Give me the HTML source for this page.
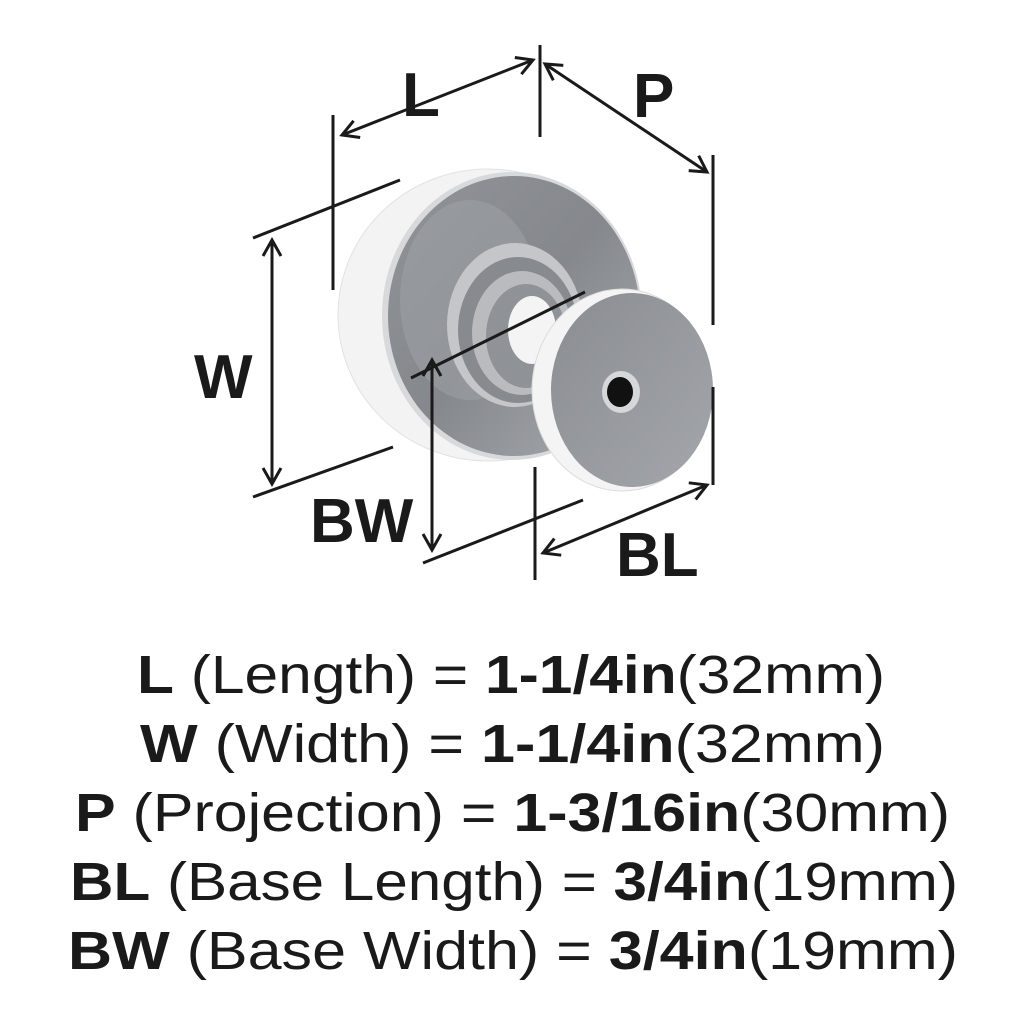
<!DOCTYPE html>
<html><head><meta charset="utf-8"><style>
html,body{margin:0;padding:0;background:#fff;width:1024px;height:1024px;overflow:hidden}
svg{display:block}
text{font-family:"Liberation Sans",sans-serif;fill:#1a1a1a}
</style></head><body>
<svg width="1024" height="1024" viewBox="0 0 1024 1024" xmlns="http://www.w3.org/2000/svg">
<defs>
<linearGradient id="g1" x1="0" y1="0" x2="1" y2="1">
<stop offset="0" stop-color="#909398"/><stop offset="0.5" stop-color="#85888d"/><stop offset="1" stop-color="#a8abaf"/>
</linearGradient>
<linearGradient id="g2" x1="0" y1="0" x2="1" y2="1">
<stop offset="0" stop-color="#8a8d92"/><stop offset="1" stop-color="#a3a6aa"/>
</linearGradient>
<marker id="a" viewBox="0 0 24 24" refX="21" refY="12" markerWidth="24" markerHeight="24" markerUnits="userSpaceOnUse" orient="auto-start-reverse">
<path d="M5,3 L21,12 L5,21" fill="none" stroke="#1a1a1a" stroke-width="3"/>
</marker>
</defs>
<!-- base -->
<ellipse cx="488" cy="315" rx="150" ry="146" fill="#f3f3f3" stroke="#e2e2e2"/>
<ellipse cx="512" cy="316" rx="130" ry="144" fill="#d8d9db"/>
<ellipse cx="514" cy="316" rx="126" ry="140" fill="url(#g1)"/>
<ellipse cx="470" cy="300" rx="70" ry="100" fill="#a0a3a7" opacity="0.5"/>
<!-- neck -->
<ellipse cx="515" cy="325" rx="68" ry="82" fill="#c4c6c9"/>
<ellipse cx="518" cy="330" rx="60" ry="73" fill="#878a8f"/>
<ellipse cx="522" cy="333" rx="50" ry="62" fill="#b9bbbe"/>
<ellipse cx="526" cy="336" rx="40" ry="52" fill="#8f9297"/>
<ellipse cx="532" cy="330" rx="24" ry="34" fill="#f4f4f4"/>
<!-- cap -->
<ellipse cx="622" cy="390" rx="90" ry="101" fill="#f4f4f4" stroke="#dcdcdc"/>
<ellipse cx="632" cy="390" rx="81" ry="97" fill="url(#g2)"/>
<ellipse cx="621" cy="392" rx="19" ry="21" fill="#d6d7d9"/>
<ellipse cx="620" cy="392" rx="13" ry="15" fill="#111"/>
<!-- dimension lines -->
<g stroke="#1a1a1a" stroke-width="3" fill="none">
<line x1="333" y1="115" x2="333" y2="290"/>
<line x1="540" y1="45" x2="540" y2="137"/>
<line x1="342" y1="135" x2="533" y2="60" marker-start="url(#a)" marker-end="url(#a)"/>
<line x1="545" y1="64" x2="707" y2="172" marker-start="url(#a)" marker-end="url(#a)"/>
<line x1="713" y1="155" x2="713" y2="325"/>
<line x1="253" y1="238" x2="400" y2="180"/>
<line x1="253" y1="497" x2="393" y2="447"/>
<line x1="272" y1="240" x2="272" y2="484" marker-start="url(#a)" marker-end="url(#a)"/>
<line x1="411" y1="378" x2="585" y2="292"/>
<line x1="432" y1="360" x2="432" y2="550" marker-start="url(#a)" marker-end="url(#a)"/>
<line x1="423" y1="563" x2="583" y2="500"/>
<line x1="535" y1="467" x2="535" y2="580"/>
<line x1="713" y1="387" x2="713" y2="485"/>
<line x1="543" y1="553" x2="707" y2="485" marker-start="url(#a)" marker-end="url(#a)"/>
</g>
<g font-weight="bold" font-size="62">
<text x="402" y="116">L</text>
<text x="633" y="117">P</text>
<text x="194" y="398">W</text>
<text x="310" y="542">BW</text>
<text x="616" y="576">BL</text>
</g>
<g font-size="54">
<text x="137" y="693" textLength="748" lengthAdjust="spacingAndGlyphs"><tspan font-weight="bold">L</tspan> (Length) = <tspan font-weight="bold">1-1/4in</tspan>(32mm)</text>
<text x="140" y="762" textLength="745" lengthAdjust="spacingAndGlyphs"><tspan font-weight="bold">W</tspan> (Width) = <tspan font-weight="bold">1-1/4in</tspan>(32mm)</text>
<text x="75" y="831" textLength="875" lengthAdjust="spacingAndGlyphs"><tspan font-weight="bold">P</tspan> (Projection) = <tspan font-weight="bold">1-3/16in</tspan>(30mm)</text>
<text x="70" y="900" textLength="888" lengthAdjust="spacingAndGlyphs"><tspan font-weight="bold">BL</tspan> (Base Length) = <tspan font-weight="bold">3/4in</tspan>(19mm)</text>
<text x="68" y="969" textLength="890" lengthAdjust="spacingAndGlyphs"><tspan font-weight="bold">BW</tspan> (Base Width) = <tspan font-weight="bold">3/4in</tspan>(19mm)</text>
</g>
</svg>
</body></html>
